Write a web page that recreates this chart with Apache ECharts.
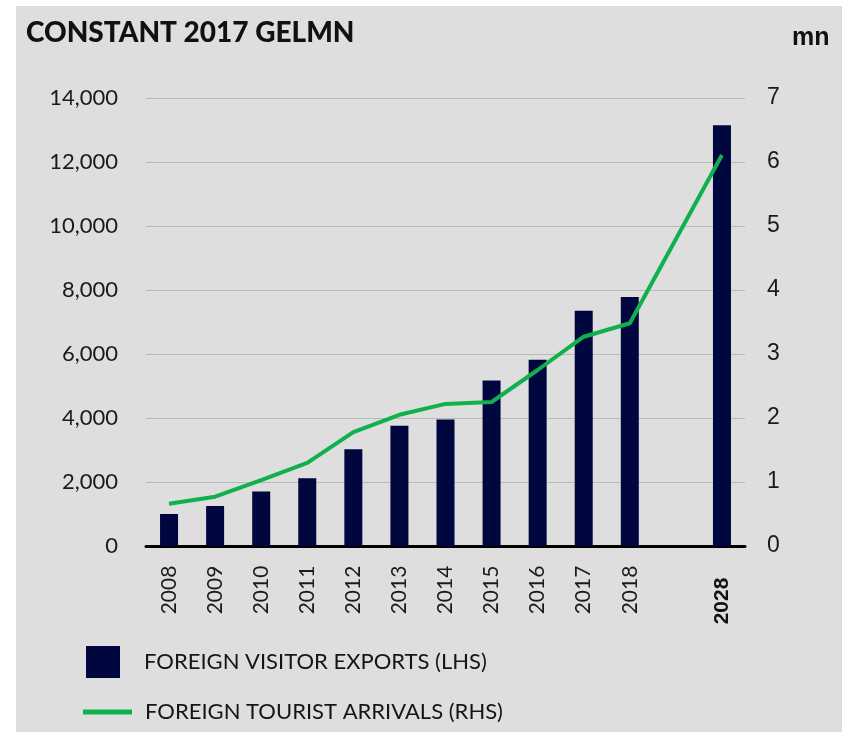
<!DOCTYPE html>
<html>
<head>
<meta charset="utf-8">
<script src="https://cdn.jsdelivr.net/npm/echarts@6/dist/echarts.min.js"></script>
<style>
  html, body { margin: 0; padding: 0; background: #fff; }
  #chart { position: absolute; left: 16px; top: 6px; width: 826px; height: 726px; background: #dedede; }
</style>
</head>
<body>
<div id="chart"></div>
<script>
// 年份（2018 与 2028 之间留一个空位）
var years = ['2008', '2009', '2010', '2011', '2012', '2013', '2014', '2015', '2016', '2017', '2018', '', '2028'];
// 外国游客出口（左轴，百万拉里）
var exportsData = [1000, 1250, 1700, 2120, 3020, 3760, 3950, 5170, 5820, 7350, 7780, null, 13150];
// 外国游客人数（右轴，百万）
var arrivalsData = [0.66, 0.77, 1.03, 1.30, 1.78, 2.05, 2.22, 2.25, 2.75, 3.27, 3.48, null, 6.11];
var leftTicks = [0, 14000, 2000];
var rightTicks = [0, 7, 1];

var chart = echarts.init(document.getElementById('chart'));
var FONT = 'Lato';

var option = {
  animation: false,
  title: [{
    text: 'CONSTANT 2017 GELMN',
    left: 5, top: 8,
    textStyle: { fontFamily: FONT, fontWeight: 900, fontSize: 28, color: '#111' }
  }, {
    text: 'mn',
    left: 771, top: 15,
    textStyle: { fontFamily: 'Liberation Sans', fontWeight: 'bold', fontSize: 25, color: '#111' }
  }],
  grid: { left: 130, right: 97, top: 92, bottom: 186 },
  legend: [{
    data: ['FOREIGN VISITOR EXPORTS (LHS)'],
    left: 65, top: 635,
    icon: 'rect', itemWidth: 34, itemHeight: 32,
    textStyle: { fontFamily: FONT, fontSize: 22, color: '#151515', padding: [0, 0, 0, 19] }
  }, {
    data: ['FOREIGN TOURIST ARRIVALS (RHS)'],
    left: 62, top: 690,
    icon: 'rect', itemWidth: 49, itemHeight: 5,
    textStyle: { fontFamily: FONT, fontSize: 22, color: '#151515', padding: [4, 0, 0, 8] }
  }],
  xAxis: {
    type: 'category',
    data: years,
    axisTick: { show: false },
    axisLine: { lineStyle: { color: '#000', width: 3 } },
    axisLabel: {
      rotate: 90, interval: 0, margin: 44, align: 'center',
      fontFamily: FONT, fontSize: 21, color: '#1a1a1a',
      formatter: function (v) { return v === '2028' ? '{b|' + v + '}' : v; },
      rich: { b: { fontFamily: 'Liberation Sans', fontWeight: 'bold', fontSize: 21, color: '#111', padding: [0, 22, 0, 0] } }
    }
  },
  yAxis: [{
    type: 'value',
    min: leftTicks[0], max: leftTicks[1], interval: leftTicks[2],
    axisLine: { show: false }, axisTick: { show: false },
    splitLine: { lineStyle: { color: '#b9b9b9', width: 1 } },
    axisLabel: {
      margin: 28, fontFamily: FONT, fontSize: 22, color: '#1a1a1a',
      formatter: function (v) { return v.toLocaleString('en-US'); }
    }
  }, {
    type: 'value',
    min: rightTicks[0], max: rightTicks[1], interval: rightTicks[2],
    axisLine: { show: false }, axisTick: { show: false },
    splitLine: { show: false },
    axisLabel: { margin: 22, fontFamily: 'Liberation Sans', fontSize: 23, color: '#1a1a1a' }
  }],
  series: [{
    name: 'FOREIGN VISITOR EXPORTS (LHS)',
    type: 'bar',
    barWidth: 18,
    yAxisIndex: 0,
    itemStyle: { color: '#00073f' },
    data: exportsData
  }, {
    name: 'FOREIGN TOURIST ARRIVALS (RHS)',
    type: 'line',
    yAxisIndex: 1,
    connectNulls: true,
    symbol: 'none',
    lineStyle: { color: '#10b04f', width: 4 },
    itemStyle: { color: '#10b04f' },
    data: arrivalsData
  }]
};

chart.setOption(option);
</script>
</body>
</html>
